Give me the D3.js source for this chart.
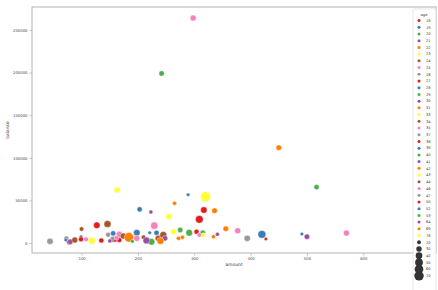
<!DOCTYPE html>
<html><head><meta charset="utf-8">
<script src="https://cdn.jsdelivr.net/npm/d3@7"></script>
<style>html,body{margin:0;padding:0;background:#fff;}svg{display:block;font-family:"DejaVu Sans",sans-serif;}</style>
</head><body>
<svg id="c" width="438" height="290"></svg>
<script>
const amount  = [44,73,72,78,80,88,100,99,99,108,118,127,146,147,156,167,156,160,167,174,184,198,198,203,210,223,221,229,233,224,236,245,248,255,265,263,272,275,279,291,304,309,315,317,320,336,334,341,356,377,394,420,427,491,500,570,450,517,163,298,242,289,309,316,150,162,190,215,240,135];
const balance = [2000,5500,3500,800,1500,3500,16400,7400,4300,4300,2700,20800,22300,9700,11400,10200,4300,3000,3500,8200,6700,12100,5500,39500,6700,36400,12100,20300,12100,1500,5500,9400,5500,30900,46600,13300,5500,15300,6700,12100,13300,27800,12100,38700,54300,37900,7400,10200,16800,14400,5500,10200,4700,10600,7400,11700,111900,65700,62200,264000,199000,56700,9400,9400,2500,6000,2000,3000,2500,3000];
const age     = [37,26,19,27,30,34,24,19,27,25,43,38,44,26,28,35,37,18,27,34,69,39,35,28,24,21,19,46,28,40,34,44,30,33,22,33,22,29,22,40,27,50,29,38,78,31,22,21,31,35,37,52,18,19,30,35,31,29,33,35,29,19,25,23,21,25,20,41,42,27];
const ageLevels = [18,19,20,21,22,23,24,25,26,27,28,29,30,31,33,34,35,37,38,39,40,41,42,43,44,46,47,50,52,53,64,69,78];
const sizeLevels = [20,30,40,50,60,70];
const xTicks = [100,200,300,400,500,600];
const yTicks = [0,50000,100000,150000,200000,250000];

const set1 = ["#e41a1c","#377eb8","#4daf4a","#984ea3","#ff7f00","#ffff33","#a65628","#f781bf","#999999"];
const color = d3.scaleOrdinal().domain(ageLevels).range(set1);
const area = d3.scaleLinear().domain([18,78]).range([9,80]);
const rad = a => Math.sqrt(area(a)/Math.PI);

const svg = d3.select("#c");
const L=32,R=436,T=7,B=253;
const x = d3.scaleLinear().domain([12,729]).range([L,R]);
const y = d3.scaleLinear().domain([-11700,277000]).range([B,T]);

const data = amount.map((a,i)=>({a, b:balance[i], g:age[i]}));

// axes ticks
const gx = svg.append("g").attr("transform",`translate(0,${B})`)
  .call(d3.axisBottom(x).tickValues(xTicks).tickSize(2.5).tickPadding(2).tickFormat(d3.format("d")));
const gy = svg.append("g").attr("transform",`translate(${L},0)`)
  .call(d3.axisLeft(y).tickValues(yTicks).tickSize(2.5).tickPadding(2).tickFormat(d3.format("d")));
[gx,gy].forEach(g=>{
  g.select(".domain").remove();
  g.selectAll(".tick line").attr("stroke","#b0b0b0").attr("stroke-width",0.8);
  g.selectAll(".tick text").attr("fill","#444").attr("font-size","3.8px").attr("font-family","DejaVu Sans");
});

// points
svg.append("g").selectAll("circle").data(data).join("circle")
  .attr("cx",d=>x(d.a)).attr("cy",d=>y(d.b)).attr("r",d=>rad(d.g))
  .attr("fill",d=>color(d.g)).attr("stroke","#fff").attr("stroke-width",0.4);

// spines
svg.append("rect").attr("x",L).attr("y",T).attr("width",R-L).attr("height",B-T)
  .attr("fill","none").attr("stroke","#b3b3b3").attr("stroke-width",1);

// axis labels
svg.append("text").attr("x",(L+R)/2).attr("y",266).attr("text-anchor","middle")
  .attr("font-size","4.5px").attr("fill","#333").text("amount");
svg.append("text").attr("transform",`translate(8.5,${(T+B)/2}) rotate(-90)`).attr("text-anchor","middle")
  .attr("font-size","4.5px").attr("fill","#333").text("balance");

// legend
const lg = svg.append("g");
lg.append("rect").attr("x",413).attr("y",9).attr("width",23).attr("height",300).attr("rx",1.5)
  .attr("fill","#fff").attr("fill-opacity",0.85).attr("stroke","#d8d8d8").attr("stroke-width",0.6);
lg.append("text").attr("x",424).attr("y",15.5).attr("text-anchor","middle")
  .attr("font-size","3.8px").attr("fill","#333").text("age");
const step = 6.72, y0 = 20.5;
ageLevels.forEach((g,i)=>{
  const yy = y0 + i*step;
  lg.append("circle").attr("cx",419).attr("cy",yy).attr("r",1.5).attr("fill",color(g));
  lg.append("text").attr("x",426).attr("y",yy+1.3).attr("font-size","3.6px").attr("fill","#333").text(g);
});
sizeLevels.forEach((s,i)=>{
  const yy = y0 + (ageLevels.length+i)*step;
  lg.append("circle").attr("cx",419).attr("cy",yy).attr("r",rad(s)).attr("fill","#333");
  lg.append("text").attr("x",426).attr("y",yy+1.3).attr("font-size","3.6px").attr("fill","#333").text(s);
});
</script>
</body></html>
